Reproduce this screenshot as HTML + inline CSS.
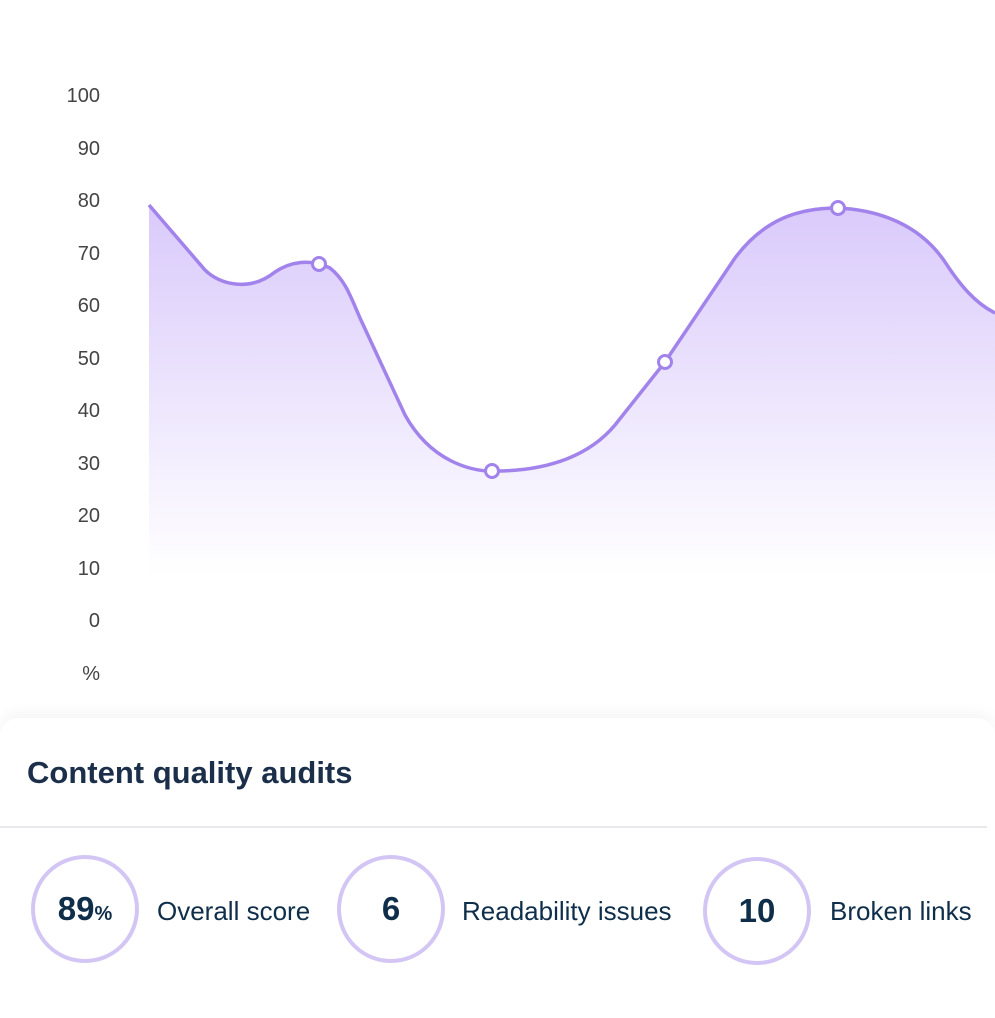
<!DOCTYPE html>
<html><head><meta charset="utf-8"><style>
body{margin:0;width:995px;height:1000px;background:#fff;font-family:"Liberation Sans",sans-serif;overflow:hidden;position:relative}
.yl{position:absolute;right:895px;font-size:20px;color:#444;text-align:right}
.card{position:absolute;left:0;top:718px;width:995px;height:300px;background:#fff;border-radius:18px 18px 0 0;box-shadow:0 -6px 14px rgba(0,0,0,0.04)}
.title{position:absolute;left:27px;top:755px;font-size:31px;font-weight:bold;color:#1b2f4a}
.div{position:absolute;left:0;top:826px;width:987px;height:2px;background:#e8e9ec}
.c{position:absolute;width:100px;height:100px;border:4px solid #d3c6f5;border-radius:50%;display:flex;align-items:baseline;justify-content:center;line-height:100px;font-weight:bold;font-size:33px;color:#0f2e4a}
.lab{position:absolute;font-size:26px;color:#0f2e4a}
</style></head><body>
<div class="yl" style="top:85px">100</div>
<div class="yl" style="top:138px">90</div>
<div class="yl" style="top:190px">80</div>
<div class="yl" style="top:243px">70</div>
<div class="yl" style="top:295px">60</div>
<div class="yl" style="top:348px">50</div>
<div class="yl" style="top:400px">40</div>
<div class="yl" style="top:453px">30</div>
<div class="yl" style="top:505px">20</div>
<div class="yl" style="top:558px">10</div>
<div class="yl" style="top:610px">0</div>
<div class="yl" style="top:663px">%</div>
<svg width="995" height="700" style="position:absolute;left:0;top:0">
<defs><linearGradient id="g" gradientUnits="userSpaceOnUse" x1="0" y1="200" x2="0" y2="575"><stop offset="0" stop-color="#d9c9fb"/><stop offset="1" stop-color="#ffffff"/></linearGradient></defs>
<path d="M149,205 L205,270 C220,285 250,292 275,272 C290,262 310,258 330,268 C345,280 350,295 360,318 L405,415 C430,460 470,473 500,471 C550,470 590,455 615,425 L665,362 L735,258 C765,218 800,208 838,208 C880,210 920,225 945,262 C960,285 975,303 995,313 L995,580 L149,580 Z" fill="url(#g)"/>
<path d="M149,205 L205,270 C220,285 250,292 275,272 C290,262 310,258 330,268 C345,280 350,295 360,318 L405,415 C430,460 470,473 500,471 C550,470 590,455 615,425 L665,362 L735,258 C765,218 800,208 838,208 C880,210 920,225 945,262 C960,285 975,303 995,313" fill="none" stroke="#a283ec" stroke-width="3.5"/>
<g fill="#fff" stroke="#a283ec" stroke-width="3"><circle cx="319" cy="264" r="6.5"/><circle cx="492" cy="471" r="6.5"/><circle cx="665" cy="362" r="6.5"/><circle cx="838" cy="208" r="6.5"/></g>
</svg>
<div class="card"></div>
<div class="title">Content quality audits</div>
<div class="div"></div>
<div class="c" style="left:31px;top:855px">89<span style="font-size:20px">%</span></div>
<div class="lab" style="left:157px;top:896px">Overall score</div>
<div class="c" style="left:337px;top:855px">6</div>
<div class="lab" style="left:462px;top:896px">Readability issues</div>
<div class="c" style="left:703px;top:857px">10</div>
<div class="lab" style="left:830px;top:896px">Broken links</div>
</body></html>
